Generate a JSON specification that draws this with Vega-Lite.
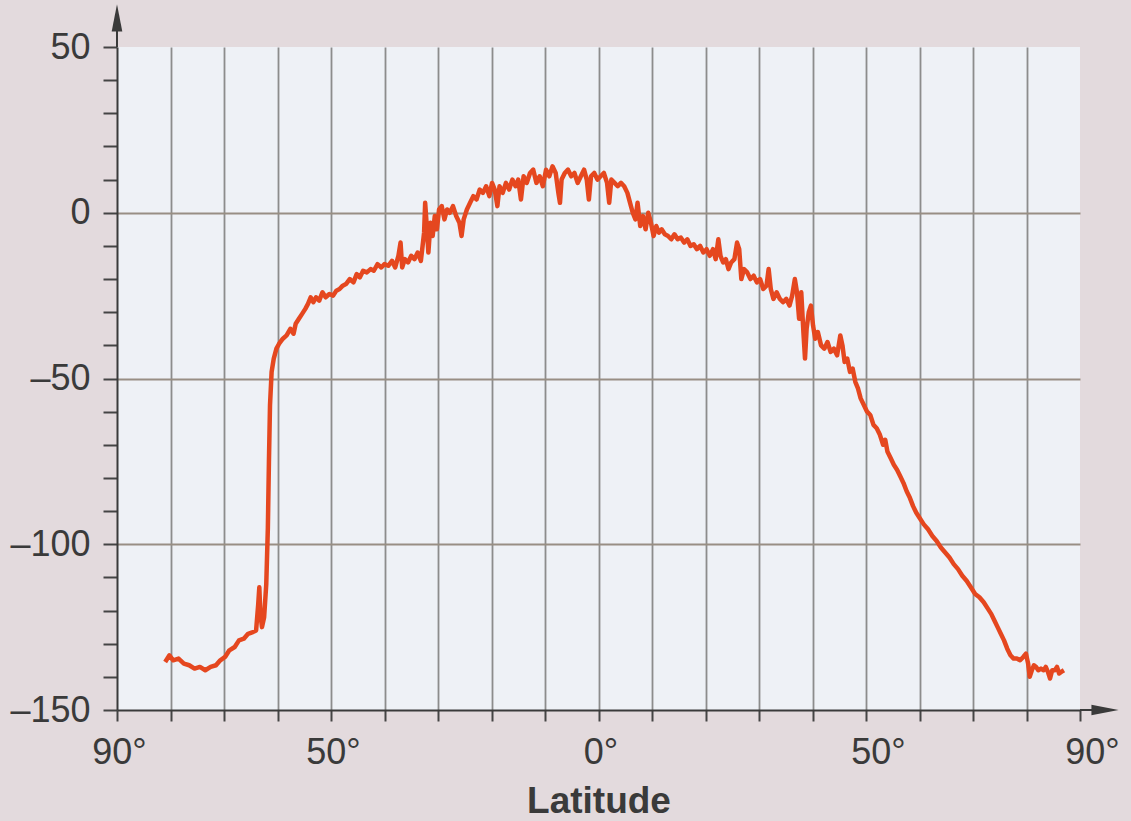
{
  "$schema": "https://vega.github.io/schema/vega-lite/v6.json",
  "width": 963,
  "height": 663,
  "autosize": "none",
  "padding": {"left": 117, "top": 47, "right": 51, "bottom": 111},
  "background": "#e3dadd",
  "config": {"view": {"fill": "#eef1f6", "stroke": null}, "font": "Liberation Sans"},
  "datasets": {
    "profile": [
      {"lat": -81.0, "v": -135.5}, {"lat": -80.2, "v": -133.5}, {"lat": -79.5, "v": -135}, {"lat": -78.5, "v": -134.5},
      {"lat": -77.5, "v": -136}, {"lat": -76.5, "v": -136.5}, {"lat": -75.5, "v": -137.5}, {"lat": -74.5, "v": -137},
      {"lat": -73.5, "v": -138}, {"lat": -72.5, "v": -137}, {"lat": -71.5, "v": -136.5}, {"lat": -70.7, "v": -135},
      {"lat": -69.8, "v": -134}, {"lat": -69.0, "v": -132}, {"lat": -68.0, "v": -131}, {"lat": -67.2, "v": -129},
      {"lat": -66.3, "v": -128.5}, {"lat": -65.5, "v": -127}, {"lat": -64.6, "v": -126.5}, {"lat": -64.0, "v": -126},
      {"lat": -63.6, "v": -118}, {"lat": -63.4, "v": -113}, {"lat": -63.2, "v": -121}, {"lat": -62.9, "v": -125},
      {"lat": -62.5, "v": -122}, {"lat": -62.1, "v": -112}, {"lat": -61.8, "v": -95}, {"lat": -61.6, "v": -75},
      {"lat": -61.4, "v": -58}, {"lat": -61.1, "v": -48}, {"lat": -60.7, "v": -44}, {"lat": -60.2, "v": -41},
      {"lat": -59.7, "v": -39.5}, {"lat": -59.0, "v": -38}, {"lat": -58.3, "v": -37}, {"lat": -57.6, "v": -35},
      {"lat": -57.0, "v": -36.5}, {"lat": -56.6, "v": -33.5}, {"lat": -56.0, "v": -32}, {"lat": -55.4, "v": -30.5},
      {"lat": -54.8, "v": -29}, {"lat": -54.3, "v": -27.5}, {"lat": -53.8, "v": -25.5}, {"lat": -53.3, "v": -27},
      {"lat": -52.8, "v": -25.5}, {"lat": -52.2, "v": -26.5}, {"lat": -51.6, "v": -24}, {"lat": -51.0, "v": -25.5},
      {"lat": -50.3, "v": -24.5}, {"lat": -49.6, "v": -25}, {"lat": -49.0, "v": -23.5}, {"lat": -48.4, "v": -23},
      {"lat": -47.8, "v": -22}, {"lat": -47.2, "v": -21.5}, {"lat": -46.5, "v": -20}, {"lat": -45.8, "v": -21},
      {"lat": -45.2, "v": -18.5}, {"lat": -44.6, "v": -19.5}, {"lat": -44.0, "v": -17.5}, {"lat": -43.3, "v": -18},
      {"lat": -42.6, "v": -17}, {"lat": -42.0, "v": -17.5}, {"lat": -41.3, "v": -15.5}, {"lat": -40.6, "v": -16.5},
      {"lat": -40.0, "v": -15.5}, {"lat": -39.3, "v": -16}, {"lat": -38.6, "v": -14.5}, {"lat": -38.0, "v": -16.5},
      {"lat": -37.4, "v": -13}, {"lat": -37.0, "v": -9}, {"lat": -36.7, "v": -16.5}, {"lat": -36.2, "v": -14},
      {"lat": -35.6, "v": -15}, {"lat": -35.0, "v": -13}, {"lat": -34.4, "v": -14}, {"lat": -33.8, "v": -12},
      {"lat": -33.2, "v": -14.5}, {"lat": -32.6, "v": -6}, {"lat": -32.4, "v": 3}, {"lat": -32.1, "v": -4},
      {"lat": -31.8, "v": -12}, {"lat": -31.4, "v": -3}, {"lat": -31.0, "v": -7}, {"lat": -30.6, "v": -1},
      {"lat": -30.2, "v": -5}, {"lat": -29.8, "v": 1}, {"lat": -29.3, "v": 2}, {"lat": -28.8, "v": -2},
      {"lat": -28.3, "v": 1}, {"lat": -27.8, "v": 0}, {"lat": -27.2, "v": 2}, {"lat": -26.6, "v": -1},
      {"lat": -26.0, "v": -3}, {"lat": -25.6, "v": -7}, {"lat": -25.2, "v": -2}, {"lat": -24.6, "v": 1},
      {"lat": -24.0, "v": 3}, {"lat": -23.4, "v": 5}, {"lat": -22.8, "v": 4}, {"lat": -22.2, "v": 7},
      {"lat": -21.6, "v": 6}, {"lat": -21.0, "v": 8}, {"lat": -20.4, "v": 5}, {"lat": -19.9, "v": 9},
      {"lat": -19.4, "v": 7}, {"lat": -18.9, "v": 2}, {"lat": -18.5, "v": 8}, {"lat": -17.9, "v": 6},
      {"lat": -17.3, "v": 9}, {"lat": -16.7, "v": 7}, {"lat": -16.1, "v": 10}, {"lat": -15.5, "v": 8},
      {"lat": -15.0, "v": 10}, {"lat": -14.5, "v": 4}, {"lat": -14.0, "v": 11}, {"lat": -13.4, "v": 9},
      {"lat": -12.8, "v": 12}, {"lat": -12.2, "v": 13}, {"lat": -11.6, "v": 9}, {"lat": -11.0, "v": 11},
      {"lat": -10.4, "v": 8}, {"lat": -9.8, "v": 13}, {"lat": -9.2, "v": 11}, {"lat": -8.6, "v": 14},
      {"lat": -8.0, "v": 12}, {"lat": -7.5, "v": 6}, {"lat": -7.2, "v": 3}, {"lat": -6.9, "v": 10},
      {"lat": -6.3, "v": 12}, {"lat": -5.7, "v": 13}, {"lat": -5.1, "v": 11}, {"lat": -4.5, "v": 12},
      {"lat": -3.9, "v": 9}, {"lat": -3.3, "v": 11}, {"lat": -2.7, "v": 13}, {"lat": -2.2, "v": 10},
      {"lat": -1.8, "v": 4}, {"lat": -1.4, "v": 11}, {"lat": -0.8, "v": 12}, {"lat": -0.2, "v": 10},
      {"lat": 0.4, "v": 11}, {"lat": 1.0, "v": 12}, {"lat": 1.6, "v": 9}, {"lat": 2.0, "v": 3},
      {"lat": 2.4, "v": 10}, {"lat": 3.0, "v": 9}, {"lat": 3.6, "v": 8}, {"lat": 4.2, "v": 9},
      {"lat": 4.8, "v": 8}, {"lat": 5.4, "v": 6}, {"lat": 5.9, "v": 3}, {"lat": 6.4, "v": 0},
      {"lat": 6.9, "v": -2}, {"lat": 7.3, "v": 3}, {"lat": 7.8, "v": -4}, {"lat": 8.3, "v": -1},
      {"lat": 8.8, "v": -5}, {"lat": 9.3, "v": 0}, {"lat": 9.8, "v": -3}, {"lat": 10.3, "v": -7},
      {"lat": 10.8, "v": -4}, {"lat": 11.3, "v": -6}, {"lat": 11.8, "v": -5}, {"lat": 12.4, "v": -6.5},
      {"lat": 13.0, "v": -7}, {"lat": 13.6, "v": -8}, {"lat": 14.2, "v": -6.5}, {"lat": 14.8, "v": -8},
      {"lat": 15.4, "v": -7.5}, {"lat": 16.0, "v": -9}, {"lat": 16.6, "v": -8}, {"lat": 17.2, "v": -10},
      {"lat": 17.8, "v": -9.5}, {"lat": 18.4, "v": -11}, {"lat": 19.0, "v": -10}, {"lat": 19.6, "v": -12},
      {"lat": 20.2, "v": -11}, {"lat": 20.8, "v": -13}, {"lat": 21.4, "v": -11}, {"lat": 21.9, "v": -14},
      {"lat": 22.4, "v": -8}, {"lat": 22.8, "v": -13}, {"lat": 23.3, "v": -15}, {"lat": 23.8, "v": -14},
      {"lat": 24.3, "v": -17}, {"lat": 24.8, "v": -15}, {"lat": 25.4, "v": -14}, {"lat": 25.9, "v": -9},
      {"lat": 26.3, "v": -11}, {"lat": 26.7, "v": -20}, {"lat": 27.2, "v": -17}, {"lat": 27.8, "v": -18},
      {"lat": 28.4, "v": -20}, {"lat": 29.0, "v": -19}, {"lat": 29.6, "v": -21}, {"lat": 30.2, "v": -20},
      {"lat": 30.8, "v": -23}, {"lat": 31.4, "v": -22}, {"lat": 31.8, "v": -17}, {"lat": 32.2, "v": -23},
      {"lat": 32.7, "v": -26}, {"lat": 33.3, "v": -24}, {"lat": 33.9, "v": -26}, {"lat": 34.5, "v": -27},
      {"lat": 35.1, "v": -26}, {"lat": 35.7, "v": -28}, {"lat": 36.2, "v": -25}, {"lat": 36.7, "v": -20},
      {"lat": 37.1, "v": -24}, {"lat": 37.5, "v": -32}, {"lat": 37.9, "v": -24}, {"lat": 38.3, "v": -36},
      {"lat": 38.6, "v": -44}, {"lat": 38.9, "v": -35}, {"lat": 39.3, "v": -30}, {"lat": 39.7, "v": -28},
      {"lat": 40.1, "v": -34}, {"lat": 40.5, "v": -38}, {"lat": 41.0, "v": -36}, {"lat": 41.6, "v": -40},
      {"lat": 42.2, "v": -41}, {"lat": 42.8, "v": -39}, {"lat": 43.4, "v": -42}, {"lat": 44.0, "v": -41},
      {"lat": 44.6, "v": -43}, {"lat": 45.2, "v": -37}, {"lat": 45.6, "v": -40}, {"lat": 46.0, "v": -45},
      {"lat": 46.5, "v": -44}, {"lat": 47.0, "v": -48}, {"lat": 47.5, "v": -47}, {"lat": 48.0, "v": -51},
      {"lat": 48.5, "v": -53}, {"lat": 49.0, "v": -56}, {"lat": 49.6, "v": -58}, {"lat": 50.2, "v": -60},
      {"lat": 50.8, "v": -61}, {"lat": 51.4, "v": -64}, {"lat": 52.0, "v": -65}, {"lat": 52.6, "v": -67},
      {"lat": 53.2, "v": -70}, {"lat": 53.6, "v": -68.5}, {"lat": 54.0, "v": -72}, {"lat": 54.6, "v": -74},
      {"lat": 55.2, "v": -76}, {"lat": 55.8, "v": -77.5}, {"lat": 56.4, "v": -79.5}, {"lat": 57.0, "v": -81.5},
      {"lat": 57.6, "v": -84}, {"lat": 58.2, "v": -86}, {"lat": 58.8, "v": -88.5}, {"lat": 59.4, "v": -90.5},
      {"lat": 60.0, "v": -92}, {"lat": 60.8, "v": -94}, {"lat": 61.6, "v": -95.5}, {"lat": 62.4, "v": -97.5},
      {"lat": 63.2, "v": -99}, {"lat": 64.0, "v": -101}, {"lat": 64.8, "v": -102.5}, {"lat": 65.6, "v": -104},
      {"lat": 66.4, "v": -106}, {"lat": 67.2, "v": -107.5}, {"lat": 68.0, "v": -109.5}, {"lat": 68.8, "v": -111},
      {"lat": 69.6, "v": -113}, {"lat": 70.4, "v": -115}, {"lat": 71.2, "v": -116}, {"lat": 72.0, "v": -117.5},
      {"lat": 72.8, "v": -119.5}, {"lat": 73.4, "v": -121}, {"lat": 74.0, "v": -123}, {"lat": 74.6, "v": -125},
      {"lat": 75.2, "v": -127}, {"lat": 75.8, "v": -129}, {"lat": 76.4, "v": -131.5}, {"lat": 77.0, "v": -133.5},
      {"lat": 77.6, "v": -134.5}, {"lat": 78.2, "v": -134.5}, {"lat": 78.8, "v": -135}, {"lat": 79.4, "v": -134},
      {"lat": 79.9, "v": -133}, {"lat": 80.3, "v": -136}, {"lat": 80.6, "v": -140}, {"lat": 81.0, "v": -138},
      {"lat": 81.4, "v": -136.5}, {"lat": 81.8, "v": -137}, {"lat": 82.2, "v": -138}, {"lat": 82.7, "v": -137.5},
      {"lat": 83.2, "v": -138}, {"lat": 83.6, "v": -137}, {"lat": 84.0, "v": -138.5}, {"lat": 84.4, "v": -140.5},
      {"lat": 84.8, "v": -138}, {"lat": 85.3, "v": -138}, {"lat": 85.7, "v": -137}, {"lat": 86.1, "v": -139},
      {"lat": 86.5, "v": -138.5}, {"lat": 87.0, "v": -138}
    ],
    "axisLines": [
      {"lat": -90, "v": 50, "lat2": -90, "v2": 60},
      {"lat": 90, "v": -150, "lat2": 95.5, "v2": -150}
    ],
    "arrowUp": [{"lat": -90, "v": 58.5}],
    "arrowRight": [{"lat": 94.5, "v": -150}]
  },
  "encoding": {
    "x": {
      "field": "lat", "type": "quantitative",
      "scale": {"domain": [-90, 90], "nice": false, "zero": false},
      "axis": {
        "title": "Latitude",
        "titleFont": "Liberation Sans", "titleFontSize": 37, "titleFontWeight": "bold", "titleColor": "#3a3a3a",
        "titlePadding": 13,
        "values": [-90, -80, -70, -60, -50, -40, -30, -20, -10, 0, 10, 20, 30, 40, 50, 60, 70, 80, 90],
        "labelExpr": "(abs(datum.value) % 50 == 0 || abs(datum.value) == 90) ? abs(datum.value) + '°' : ''",
        "labelFontSize": 36, "labelColor": "#3a3a3a", "labelPadding": 14,
        "labelOffset": {"condition": {"test": "datum.value > 0", "value": 12}, "value": 2},
        "labelFlush": false, "labelOverlap": false,
        "tickSize": 11, "tickWidth": 2, "tickColor": "#444444",
        "domainColor": "#3a3a3a", "domainWidth": 2,
        "grid": true, "gridColor": "#8c8c8c", "gridWidth": 1.8,
        "gridOpacity": {"condition": {"test": "abs(datum.value) == 90", "value": 0}, "value": 1}
      }
    },
    "y": {
      "field": "v", "type": "quantitative",
      "scale": {"domain": [-150, 50], "nice": false, "zero": false},
      "axis": {
        "title": null,
        "values": [-150, -140, -130, -120, -110, -100, -90, -80, -70, -60, -50, -40, -30, -20, -10, 0, 10, 20, 30, 40, 50],
        "labelExpr": "datum.value % 50 == 0 ? (datum.value < 0 ? '–' + abs(datum.value) : '' + datum.value) : ''",
        "labelFontSize": 36, "labelColor": "#3a3a3a", "labelPadding": 13,
        "labelFlush": false, "labelOverlap": false,
        "tickSize": 14, "tickWidth": 2, "tickColor": "#444444",
        "domainColor": "#3a3a3a", "domainWidth": 2,
        "grid": true, "gridColor": "#988e84", "gridWidth": 1.8,
        "gridOpacity": {"condition": {"test": "datum.value % 50 == 0 && datum.value > -150 && datum.value < 50", "value": 1}, "value": 0}
      }
    }
  },
  "layer": [
    {
      "data": {"name": "profile"},
      "mark": {"type": "line", "color": "#e5471f", "strokeWidth": 4.5, "strokeJoin": "round", "clip": false}
    },
    {
      "data": {"name": "axisLines"},
      "mark": {"type": "rule", "color": "#3a3a3a", "strokeWidth": 2, "clip": false},
      "encoding": {
        "x2": {"field": "lat2"},
        "y2": {"field": "v2"}
      }
    },
    {
      "data": {"name": "arrowUp"},
      "mark": {"type": "point", "shape": "M0,-1.15L0.42,1L-0.42,1Z", "filled": true, "color": "#3a3a3a", "size": 640, "opacity": 1, "clip": false}
    },
    {
      "data": {"name": "arrowRight"},
      "mark": {"type": "point", "shape": "M1.15,0L-1,0.42L-1,-0.42Z", "filled": true, "color": "#3a3a3a", "size": 640, "opacity": 1, "clip": false}
    }
  ]
}
